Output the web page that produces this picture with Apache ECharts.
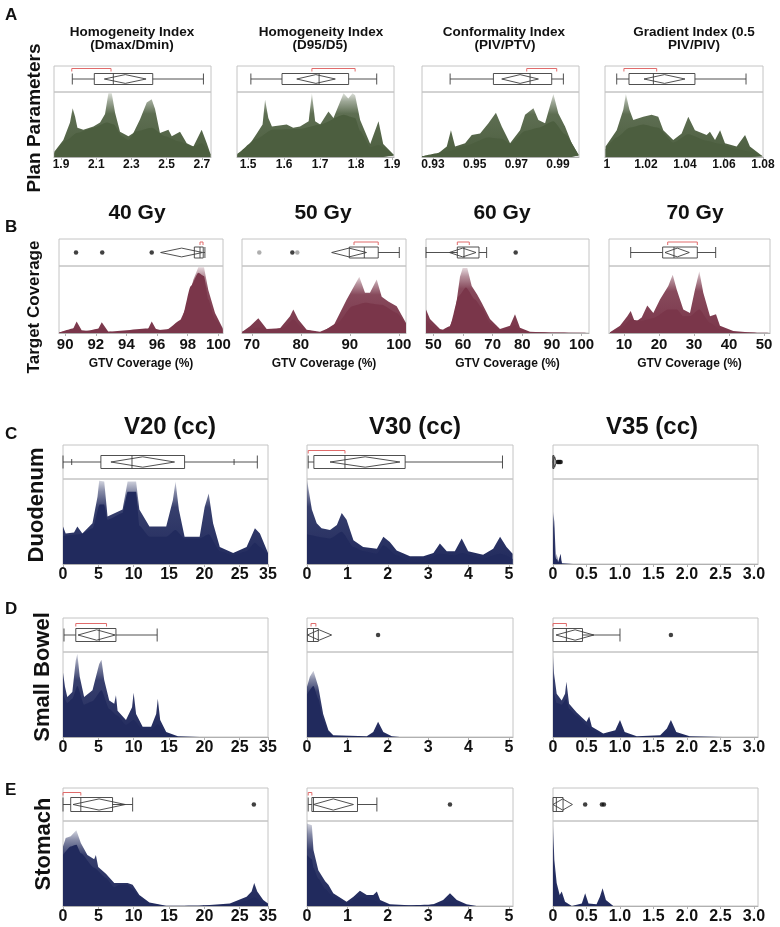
<!DOCTYPE html>
<html><head><meta charset="utf-8">
<script src="https://cdn.jsdelivr.net/npm/echarts@6/dist/echarts.min.js"></script>
<style>html,body{margin:0;padding:0;background:#fff}#c{width:780px;height:927px}</style>
</head><body><div id="c"></div>
<script>
// ---------------- DATA ----------------
// Box arrays: [whiskerLo, Q1, median, Q3, whiskerHi, meanDiamondLo, mean, meanDiamondHi, shortestHalfLo, shortestHalfHi]
// Density arrays: [value, relative height]  (outer = full shadowgram envelope, core = dense base)

// A: Plan parameters
const hiDmaxOuter = [[1.862,0.08],[1.913,0.26],[1.951,0.53],[1.966,0.75],[1.98,0.62],[1.993,0.45],[2.027,0.42],[2.084,0.47],[2.122,0.53],[2.15,0.66],[2.169,0.98],[2.188,0.98],[2.207,0.68],[2.235,0.39],[2.283,0.32],[2.311,0.37],[2.349,0.58],[2.387,0.84],[2.415,0.89],[2.434,0.74],[2.462,0.37],[2.51,0.42],[2.529,0.32],[2.576,0.39],[2.614,0.21],[2.652,0.16],[2.699,0.42],[2.728,0.21],[2.75,0.04]];
const hiDmaxCore = [[1.862,0.05],[1.932,0.26],[1.99,0.37],[2.084,0.45],[2.16,0.53],[2.2,0.5],[2.245,0.32],[2.283,0.26],[2.32,0.39],[2.415,0.45],[2.49,0.32],[2.57,0.24],[2.652,0.16],[2.7,0.21],[2.75,0.03]];
const hiDmaxBox = [1.964, 2.089, 2.197, 2.421, 2.709, 2.146, 2.265, 2.383, 1.961, 2.184];
const hiDmaxTicks = [1.9, 2.1, 2.3, 2.5, 2.7];
const hiDmaxTickText = ['1.9', '2.1', '2.3', '2.5', '2.7'];

const hiD95Outer = [[1.47,0.05],[1.50,0.16],[1.524,0.36],[1.54,0.5],[1.547,0.88],[1.556,0.6],[1.566,0.47],[1.607,0.5],[1.625,0.45],[1.644,0.47],[1.668,0.55],[1.677,0.98],[1.686,0.55],[1.7,0.5],[1.723,0.7],[1.737,0.6],[1.765,0.98],[1.778,0.9],[1.79,0.98],[1.797,0.95],[1.811,0.57],[1.839,0.2],[1.862,0.55],[1.875,0.2],[1.905,0.03]];
const hiD95Core = [[1.47,0.03],[1.524,0.28],[1.566,0.42],[1.644,0.43],[1.7,0.5],[1.765,0.65],[1.797,0.6],[1.811,0.4],[1.839,0.15],[1.862,0.18],[1.905,0.02]];
const hiD95Box = [1.5075, 1.594, 1.697, 1.779, 1.857, 1.635, 1.688, 1.742, 1.677, 1.797];
const hiD95Ticks = [1.5, 1.6, 1.7, 1.8, 1.9];
const hiD95TickText = ['1.5', '1.6', '1.7', '1.8', '1.9'];

const ciOuter = [[0.9247,0.01],[0.9318,0.04],[0.9366,0.16],[0.9386,0.41],[0.9406,0.16],[0.9454,0.21],[0.9486,0.34],[0.9526,0.36],[0.9566,0.52],[0.9602,0.68],[0.963,0.47],[0.967,0.21],[0.9718,0.41],[0.9742,0.65],[0.9782,0.75],[0.9806,0.57],[0.9838,0.52],[0.9878,0.97],[0.9902,0.67],[0.9934,0.47],[0.9966,0.21],[1.0,0.03]];
const ciCore = [[0.9247,0.01],[0.9366,0.08],[0.9454,0.17],[0.9566,0.3],[0.963,0.28],[0.967,0.2],[0.9742,0.4],[0.9806,0.45],[0.9878,0.55],[0.9934,0.35],[1.0,0.02]];
const ciBox = [0.9382, 0.959, 0.9766, 0.987, 0.9926, 0.963, 0.9718, 0.9806, 0.975, 0.9894];
const ciTicks = [0.93, 0.95, 0.97, 0.99];
const ciTickText = ['0.93', '0.95', '0.97', '0.99'];

const giOuter = [[0.9993,0.16],[1.005,0.41],[1.0084,0.73],[1.0097,0.97],[1.0115,0.73],[1.0135,0.57],[1.0186,0.62],[1.0229,0.65],[1.0263,0.62],[1.0289,0.41],[1.034,0.26],[1.0383,0.36],[1.0417,0.62],[1.0451,0.41],[1.0511,0.34],[1.0528,0.39],[1.0554,0.26],[1.058,0.41],[1.0605,0.21],[1.0665,0.16],[1.0708,0.34],[1.0733,0.16],[1.0798,0.01]];
const giCore = [[0.9993,0.12],[1.005,0.3],[1.0115,0.45],[1.0186,0.5],[1.0263,0.45],[1.034,0.22],[1.0417,0.35],[1.0511,0.25],[1.058,0.2],[1.0665,0.12],[1.0733,0.08],[1.0798,0.01]];
const giBox = [1.005, 1.0113, 1.0238, 1.0451, 1.0713, 1.019, 1.0295, 1.04, 1.0087, 1.0255];
const giTicks = [1, 1.02, 1.04, 1.06, 1.08];
const giTickText = ['1', '1.02', '1.04', '1.06', '1.08'];

// B: Target coverage (GTV coverage %)
const cov40Outer = [[89.62,0.01],[90.43,0.02],[90.75,0.17],[91.08,0.04],[92.06,0.02],[92.39,0.16],[92.82,0.02],[94.02,0.01],[95.32,0.02],[95.65,0.17],[95.97,0.04],[97.28,0.07],[97.93,0.4],[98.36,0.79],[98.69,0.98],[99.06,0.98],[99.34,0.64],[99.78,0.3],[100.28,0.07]];
const cov40Core = [[89.62,0.01],[90.75,0.08],[91.08,0.02],[92.39,0.07],[92.82,0.02],[95.65,0.07],[96.5,0.03],[97.6,0.2],[98.2,0.7],[98.69,0.9],[99.06,0.85],[99.34,0.5],[99.78,0.2],[100.28,0.05]];
const cov40Box = [98.43, 98.43, 98.8, 99.01, 99.12, 96.23, 97.6, 98.97, 98.8, 98.97];
const cov40Outliers = [90.71, 92.42, 95.65];
const cov40Ticks = [90, 92, 94, 96, 98, 100];
const cov40TickText = ['90', '92', '94', '96', '98', '100'];

const cov50Outer = [[68.06,0.02],[69.63,0.1],[71.33,0.22],[73.04,0.06],[75.76,0.07],[77.8,0.25],[78.47,0.35],[79.49,0.2],[81.2,0.05],[83.92,0.02],[86.63,0.1],[89.37,0.5],[91.94,0.84],[93.1,0.6],[94.12,0.6],[95.49,0.8],[96.51,0.54],[97.86,0.47],[99.57,0.4],[101.47,0.15]];
const cov50Core = [[68.06,0.02],[71.33,0.08],[73.04,0.03],[76.5,0.08],[78.47,0.2],[80.5,0.05],[83.92,0.01],[87.5,0.15],[90.5,0.4],[93.1,0.45],[96.51,0.42],[99.57,0.3],[101.47,0.12]];
const cov50Box = [89.9, 89.9, 92.96, 95.8, 100.1, 86.3, 89.85, 93.4, 90.86, 95.8];
const cov50Outliers = [78.27];
const cov50OutliersGray = [71.53, 79.29];
const cov50Ticks = [70, 80, 90, 100];
const cov50TickText = ['70', '80', '90', '100'];

const cov60Outer = [[47.5,0.35],[48.85,0.21],[52.22,0.06],[55.02,0.03],[57.28,0.3],[58.97,0.84],[59.88,0.97],[61.43,0.97],[62.92,0.7],[64.81,0.57],[66.29,0.45],[69.09,0.21],[72.47,0.06],[75.84,0.11],[77.53,0.28],[79.21,0.08],[82.59,0.02],[90,0.005],[102.5,0]];
const cov60Core = [[47.5,0.2],[49.5,0.1],[52.22,0.03],[55.5,0.1],[58.5,0.55],[61,0.68],[64,0.5],[66.3,0.38],[69.09,0.15],[72.47,0.04],[75.84,0.05],[77.53,0.12],[79.21,0.04],[82.59,0.01],[102.5,0]];
const cov60Box = [47.5, 58.07, 60.32, 65.38, 67.96, 55.37, 59.88, 64.37, 58.07, 62.1];
const cov60Outliers = [77.76];
const cov60Ticks = [50, 60, 70, 80, 90, 100];
const cov60TickText = ['50', '60', '70', '80', '90', '100'];

const cov70Outer = [[5.99,0.01],[8.84,0.11],[10.93,0.25],[11.9,0.33],[13.13,0.16],[15.04,0.23],[16.64,0.41],[18.36,0.3],[20.27,0.5],[22.64,0.7],[23.9,0.87],[25.04,0.65],[26.93,0.35],[28.84,0.3],[30.27,0.65],[31.5,0.92],[32.64,0.6],[34.56,0.25],[36.27,0.28],[37.41,0.11],[41.21,0.03],[47.9,0],[51.7,0]];
const cov70Core = [[5.99,0.01],[8.84,0.05],[11.9,0.2],[15.04,0.18],[18.36,0.22],[22.64,0.35],[25.04,0.35],[26.93,0.25],[28.84,0.25],[31.5,0.35],[34.56,0.15],[37.41,0.05],[41.21,0.01],[51.7,0]];
const cov70Box = [11.9, 21.03, 24.27, 30.93, 36.18, 21.7, 25.2, 28.65, 22.47, 30.93];
const cov70Ticks = [10, 20, 30, 40, 50];
const cov70TickText = ['10', '20', '30', '40', '50'];

// C-E: organ volumes (cc)
const v20Ticks = [0, 5, 10, 15, 20, 25, 29];
const v20TickText = ['0', '5', '10', '15', '20', '25', '35'];
const v30Ticks = [0, 1, 2, 3, 4, 5];
const v30TickText = ['0', '1', '2', '3', '4', '5'];
const v35Ticks = [0, 0.5, 1.0, 1.5, 2.0, 2.5, 3.0];
const v35TickText = ['0', '0.5', '1.0', '1.5', '2.0', '2.5', '3.0'];

const duoV20Outer = [[0,0.44],[0.38,0.36],[1.56,0.37],[2.03,0.44],[2.74,0.36],[4.17,0.48],[4.88,0.79],[5.12,0.98],[5.83,0.97],[6.3,0.56],[8.43,0.64],[9.14,0.97],[10.34,0.97],[10.8,0.64],[12.23,0.44],[14.6,0.44],[15.54,0.75],[15.92,0.97],[16.39,0.64],[17.2,0.32],[19.33,0.32],[20.04,0.67],[20.61,0.83],[21.23,0.48],[22.18,0.2],[24.07,0.13],[25.97,0.2],[27.15,0.42],[27.86,0.36],[29,0.13]];
const duoV20Core = [[0,0.33],[2.5,0.35],[4.2,0.42],[5.2,0.7],[5.8,0.7],[6.3,0.52],[8.43,0.6],[9.14,0.85],[10.34,0.85],[10.8,0.45],[12.23,0.32],[14.6,0.32],[15.9,0.4],[17.2,0.3],[19.33,0.3],[20.6,0.35],[22.18,0.15],[24.07,0.1],[25.97,0.15],[27.15,0.25],[27.86,0.2],[29,0.1]];
const duoV20Box = [0, 5.36, 9.76, 17.2, 27.49, 6.78, 11.28, 15.78, null, null];
const duoV20Marks = [1.23, 24.2];

const duoV30Outer = [[0.0,0.99],[0.03,0.99],[0.12,0.64],[0.24,0.48],[0.36,0.42],[0.57,0.4],[0.74,0.46],[0.86,0.6],[0.98,0.52],[1.15,0.28],[1.39,0.2],[1.73,0.18],[1.89,0.32],[2.05,0.26],[2.22,0.16],[2.55,0.09],[2.88,0.09],[3.13,0.13],[3.29,0.24],[3.46,0.15],[3.66,0.15],[3.83,0.3],[3.99,0.15],[4.36,0.11],[4.61,0.18],[4.78,0.32],[4.94,0.2],[5.09,0.12]];
const duoV30Core = [[0,0.35],[0.57,0.3],[0.86,0.38],[1.15,0.2],[1.39,0.15],[1.73,0.12],[1.89,0.22],[2.22,0.1],[2.55,0.02],[2.88,0.02],[3.29,0.12],[3.66,0.1],[3.83,0.13],[4.36,0.06],[4.78,0.12],[5.09,0.06]];
const duoV30Box = [0.03, 0.17, 0.94, 2.43, 4.84, 0.57, 1.44, 2.3, 0.03, 0.94];

const duoV35Outer = [[0,0.62],[0.02,0.5],[0.04,0.1],[0.05,0.02],[0.055,0.12],[0.075,0.02],[0.1,0.02],[0.115,0.12],[0.13,0.01],[0.3,0],[3.06,0]];
const duoV35Core = [[0,0.3],[0.03,0.05],[0.055,0.06],[0.08,0.01],[0.115,0.05],[0.14,0],[3.06,0]];
const duoV35Box = [0, 0, 0, 0.01, 0.01, 0, 0.025, 0.05, null, null];
const duoV35Outliers = [0.07, 0.085, 0.1, 0.115];

const sbV20Outer = [[0,0.76],[0.28,0.59],[0.61,0.47],[1.32,0.53],[1.81,0.9],[2.03,0.98],[2.37,0.71],[2.99,0.47],[4.17,0.55],[5.12,0.86],[5.44,0.91],[5.83,0.67],[6.54,0.43],[7.25,0.39],[7.49,0.49],[7.72,0.31],[8.91,0.2],[9.77,0.35],[9.99,0.52],[10.34,0.27],[11.27,0.12],[12.47,0.12],[13.18,0.27],[13.41,0.45],[13.75,0.2],[14.6,0.06],[16.25,0.01],[19.33,0],[29,0]];
const sbV20Core = [[0,0.5],[0.61,0.4],[1.32,0.45],[2.03,0.6],[2.99,0.38],[4.17,0.42],[5.44,0.55],[6.54,0.33],[7.72,0.25],[8.91,0.14],[9.99,0.2],[11.27,0.08],[12.47,0.08],[13.41,0.15],[14.6,0.03],[16.25,0],[29,0]];
const sbV20Box = [0.14, 1.81, 5.12, 7.49, 13.32, 2.13, 4.76, 7.39, 1.81, 6.16];

const sbV30Outer = [[0,0.59],[0.07,0.71],[0.16,0.78],[0.28,0.59],[0.4,0.27],[0.53,0.08],[0.65,0.02],[1.48,0.01],[1.64,0.06],[1.76,0.18],[1.89,0.06],[2.1,0.01],[2.3,0],[5.1,0]];
const sbV30Core = [[0,0.5],[0.16,0.6],[0.28,0.45],[0.4,0.2],[0.53,0.05],[0.65,0.01],[1.48,0],[1.64,0.03],[1.76,0.1],[1.89,0.03],[2.1,0],[5.1,0]];
const sbV30Box = [0.01, 0.01, 0.16, 0.28, 0.28, 0.01, 0.3, 0.61, 0.1, 0.22];
const sbV30Outliers = [1.76];

const sbV35Outer = [[0,0.98],[0.015,0.75],[0.055,0.51],[0.13,0.43],[0.18,0.51],[0.2,0.65],[0.24,0.39],[0.35,0.29],[0.5,0.18],[0.54,0.24],[0.58,0.12],[0.75,0.04],[0.93,0.08],[1.0,0.2],[1.07,0.06],[1.25,0.01],[1.6,0.02],[1.7,0.1],[1.76,0.2],[1.84,0.06],[2.04,0.01],[2.54,0],[3.06,0]];
const sbV35Core = [[0,0.6],[0.015,0.5],[0.055,0.4],[0.13,0.38],[0.2,0.45],[0.24,0.33],[0.35,0.25],[0.5,0.14],[0.58,0.08],[0.75,0.02],[0.93,0.03],[1.0,0.08],[1.07,0.02],[1.25,0],[1.6,0.01],[1.76,0.08],[1.84,0.02],[2.04,0],[3.06,0]];
const sbV35Box = [0, 0, 0.2, 0.44, 1.0, 0.045, 0.33, 0.61, 0, 0.2];
const sbV35Outliers = [1.76];

const stV20Outer = [[0,0.7],[0.38,0.8],[1.09,0.82],[1.89,0.89],[2.52,0.74],[3.45,0.6],[4.41,0.55],[4.65,0.6],[4.98,0.46],[6.07,0.38],[7.25,0.27],[7.96,0.27],[9.14,0.27],[9.85,0.25],[10.8,0.13],[12.23,0.04],[14.6,0.004],[19.33,0.004],[23.6,0.03],[25.97,0.11],[26.68,0.17],[27.05,0.27],[27.48,0.17],[28.33,0.07],[29,0.03]];
const stV20Core = [[0,0.6],[1.09,0.7],[1.89,0.72],[2.52,0.62],[4.41,0.45],[6.07,0.33],[7.25,0.22],[7.96,0.25],[9.14,0.25],[9.85,0.2],[10.8,0.1],[12.23,0.03],[14.6,0],[23.6,0.01],[25.97,0.06],[27.05,0.1],[28.33,0.04],[29,0.02]];
const stV20Box = [0, 1.09, 2.52, 7.01, 9.85, 1.42, 5.1, 8.81, 0, 2.52];
const stV20Outliers = [27.0];

const stV30Outer = [[0,0.97],[0.12,0.95],[0.16,0.66],[0.28,0.42],[0.45,0.29],[0.53,0.25],[0.65,0.15],[0.98,0.05],[1.15,0.11],[1.31,0.18],[1.48,0.13],[1.64,0.13],[1.73,0.17],[1.81,0.07],[2.05,0.02],[2.88,0],[3.13,0.02],[3.37,0.07],[3.54,0.15],[3.71,0.07],[3.95,0.02],[4.2,0],[5.1,0]];
const stV30Core = [[0,0.6],[0.12,0.55],[0.16,0.45],[0.28,0.32],[0.45,0.2],[0.65,0.1],[0.98,0.03],[1.31,0.1],[1.64,0.07],[1.81,0.02],[2.05,0],[3.37,0.02],[3.54,0.05],[3.71,0.02],[3.95,0],[5.1,0]];
const stV30Box = [0.03, 0.12, 0.16, 1.25, 1.73, 0.16, 0.65, 1.15, 0.03, 0.12];
const stV30Outliers = [3.54];

const stV35Outer = [[0,0.97],[0.02,0.54],[0.055,0.27],[0.1,0.13],[0.13,0.17],[0.18,0.05],[0.28,0],[0.43,0.03],[0.48,0.15],[0.53,0.03],[0.65,0.02],[0.7,0.11],[0.74,0.21],[0.79,0.07],[0.9,0],[3.06,0]];
const stV35Core = [[0,0.6],[0.02,0.4],[0.055,0.2],[0.1,0.08],[0.13,0.1],[0.18,0.02],[0.28,0],[0.43,0.01],[0.48,0.07],[0.53,0.01],[0.65,0],[0.7,0.04],[0.74,0.1],[0.79,0.03],[0.9,0],[3.06,0]];
const stV35Box = [0, 0, 0.05, 0.15, 0.15, 0, 0.145, 0.29, null, null];
const stV35Outliers = [0.48, 0.73, 0.76];

// ---------------- LAYOUT / STYLE ----------------
const FONT = 'Liberation Sans, Arial, Helvetica, sans-serif';
const ROWS = {
  A: {top: 66, div: 92, bot: 157, boxH: 11, fs: 12, margin: 2},
  B: {top: 239, div: 266, bot: 333, boxH: 11, fs: 15, margin: 4},
  C: {top: 445, div: 479, bot: 564, boxH: 13, fs: 16, margin: 3},
  D: {top: 618, div: 652, bot: 737, boxH: 13, fs: 16, margin: 3},
  E: {top: 788, div: 821, bot: 906, boxH: 14, fs: 16, margin: 3}
};
const PAL = {
  green: {rgb: [76, 94, 63]},
  maroon: {rgb: [122, 54, 74]},
  navy: {rgb: [33, 42, 93]}
};
const COL = {
  A: [[54, 211], [237, 394], [422, 579], [605, 763]],
  B: [[59, 223], [242, 406], [426, 589], [609, 770]],
  V: [[63, 268], [307, 513], [553, 758]]
};

const panels = [
  {row: 'A', pos: COL.A[0], min: 1.86, max: 2.752, outer: hiDmaxOuter, core: hiDmaxCore, box: hiDmaxBox, ticks: hiDmaxTicks, text: hiDmaxTickText, pal: 'green'},
  {row: 'A', pos: COL.A[1], min: 1.469, max: 1.905, outer: hiD95Outer, core: hiD95Core, box: hiD95Box, ticks: hiD95Ticks, text: hiD95TickText, pal: 'green'},
  {row: 'A', pos: COL.A[2], min: 0.9247, max: 1.0001, outer: ciOuter, core: ciCore, box: ciBox, ticks: ciTicks, text: ciTickText, pal: 'green'},
  {row: 'A', pos: COL.A[3], min: 0.999, max: 1.08, outer: giOuter, core: giCore, box: giBox, ticks: giTicks, text: giTickText, pal: 'green'},
  {row: 'B', pos: COL.B[0], min: 89.6, max: 100.3, outer: cov40Outer, core: cov40Core, box: cov40Box, outl: cov40Outliers, ticks: cov40Ticks, text: cov40TickText, pal: 'maroon', name: 'GTV Coverage (%)'},
  {row: 'B', pos: COL.B[1], min: 68, max: 101.47, outer: cov50Outer, core: cov50Core, box: cov50Box, outl: cov50Outliers, outlGray: cov50OutliersGray, ticks: cov50Ticks, text: cov50TickText, pal: 'maroon', name: 'GTV Coverage (%)'},
  {row: 'B', pos: COL.B[2], min: 47.5, max: 102.5, outer: cov60Outer, core: cov60Core, box: cov60Box, outl: cov60Outliers, ticks: cov60Ticks, text: cov60TickText, pal: 'maroon', name: 'GTV Coverage (%)'},
  {row: 'B', pos: COL.B[3], min: 5.7, max: 51.7, outer: cov70Outer, core: cov70Core, box: cov70Box, ticks: cov70Ticks, text: cov70TickText, pal: 'maroon', name: 'GTV Coverage (%)'},
  {row: 'C', pos: COL.V[0], min: 0, max: 29, outer: duoV20Outer, core: duoV20Core, box: duoV20Box, marks: duoV20Marks, ticks: v20Ticks, text: v20TickText, pal: 'navy'},
  {row: 'C', pos: COL.V[1], min: 0, max: 5.1, outer: duoV30Outer, core: duoV30Core, box: duoV30Box, ticks: v30Ticks, text: v30TickText, pal: 'navy'},
  {row: 'C', pos: COL.V[2], min: 0, max: 3.06, outer: duoV35Outer, core: duoV35Core, box: duoV35Box, outl: duoV35Outliers, ticks: v35Ticks, text: v35TickText, pal: 'navy'},
  {row: 'D', pos: COL.V[0], min: 0, max: 29, outer: sbV20Outer, core: sbV20Core, box: sbV20Box, ticks: v20Ticks, text: v20TickText, pal: 'navy'},
  {row: 'D', pos: COL.V[1], min: 0, max: 5.1, outer: sbV30Outer, core: sbV30Core, box: sbV30Box, outl: sbV30Outliers, ticks: v30Ticks, text: v30TickText, pal: 'navy'},
  {row: 'D', pos: COL.V[2], min: 0, max: 3.06, outer: sbV35Outer, core: sbV35Core, box: sbV35Box, outl: sbV35Outliers, ticks: v35Ticks, text: v35TickText, pal: 'navy'},
  {row: 'E', pos: COL.V[0], min: 0, max: 29, outer: stV20Outer, core: stV20Core, box: stV20Box, outl: stV20Outliers, ticks: v20Ticks, text: v20TickText, pal: 'navy'},
  {row: 'E', pos: COL.V[1], min: 0, max: 5.1, outer: stV30Outer, core: stV30Core, box: stV30Box, outl: stV30Outliers, ticks: v30Ticks, text: v30TickText, pal: 'navy'},
  {row: 'E', pos: COL.V[2], min: 0, max: 3.06, outer: stV35Outer, core: stV35Core, box: stV35Box, outl: stV35Outliers, ticks: v35Ticks, text: v35TickText, pal: 'navy'}
];

function rgba(c, a) { return 'rgba(' + c[0] + ',' + c[1] + ',' + c[2] + ',' + a + ')'; }
function labelFmt(ticks, texts) {
  return function (v) {
    let bi = 0, bd = Infinity;
    ticks.forEach(function (t, i) { const d = Math.abs(t - v); if (d < bd) { bd = d; bi = i; } });
    return texts[bi];
  };
}
function boxRender(h, marks) {
  return function (params, api) {
    const v = function (k) { return api.value(k); };
    const X = function (val) { return api.coord([val, 0.5])[0]; };
    const cy = api.coord([v(2), 0.5])[1];
    const st = {stroke: '#3c3c3c', lineWidth: 0.9, fill: 'none'};
    const kids = [];
    function line(x1, y1, x2, y2) { kids.push({type: 'line', shape: {x1: x1, y1: y1, x2: x2, y2: y2}, style: st}); }
    const wl = X(v(0)), q1 = X(v(1)), md = X(v(2)), q3 = X(v(3)), wr = X(v(4));
    const dl = X(v(5)), dm = X(v(6)), dr = X(v(7));
    if (wr - q3 > 0.5) { line(q3, cy, wr, cy); line(wr, cy - h / 2, wr, cy + h / 2); }
    if (q1 - wl > 0.5) { line(wl, cy, q1, cy); line(wl, cy - h / 2, wl, cy + h / 2); }
    (marks || []).forEach(function (m) { const mx = X(m); line(mx, cy - 3, mx, cy + 3); });
    kids.push({type: 'rect', shape: {x: q1, y: cy - h / 2, width: Math.max(q3 - q1, 1), height: h}, style: st});
    line(md, cy - h / 2, md, cy + h / 2);
    const dh = h * 0.8;
    kids.push({type: 'polygon', shape: {points: [[dl, cy], [dm, cy - dh / 2], [dr, cy], [dm, cy + dh / 2]]}, style: st});
    const s0 = v(8), s1 = v(9);
    if (s0 != null && !isNaN(s0) && s1 != null && !isNaN(s1)) {
      const by = cy - h / 2 - 5;
      const a = X(s0), b = Math.max(X(s1), a + 3);
      kids.push({type: 'polyline', shape: {points: [[a, by + 3], [a, by], [b, by], [b, by + 3]]}, style: {stroke: '#e06b6b', lineWidth: 1, fill: 'none'}});
    }
    return {type: 'group', children: kids};
  };
}

const grid = [], xAxis = [], yAxis = [], series = [];
panels.forEach(function (p, i) {
  const r = ROWS[p.row];
  const w = p.pos[1] - p.pos[0];
  const gTop = 2 * i, gBot = 2 * i + 1;
  grid.push({left: p.pos[0], top: r.top, width: w, height: r.div - r.top, show: true, borderColor: '#c4c4c4', borderWidth: 1, backgroundColor: 'transparent'});
  grid.push({left: p.pos[0], top: r.div, width: w, height: r.bot - r.div, show: true, borderColor: '#c4c4c4', borderWidth: 1, backgroundColor: 'transparent'});
  xAxis.push({gridIndex: gTop, type: 'value', min: p.min, max: p.max, show: false});
  xAxis.push({
    gridIndex: gBot, type: 'value', min: p.min, max: p.max,
    axisLine: {show: true, lineStyle: {color: '#b0b0b0', width: 1}},
    axisTick: {show: true, customValues: p.ticks, length: 3, lineStyle: {color: '#b0b0b0'}},
    axisLabel: {customValues: p.ticks, formatter: labelFmt(p.ticks, p.text), fontSize: r.fs, fontWeight: 'bold', fontFamily: FONT, color: '#111', margin: r.margin},
    splitLine: {show: false},
    name: p.name || '', nameLocation: 'middle', nameGap: 25,
    nameTextStyle: {fontSize: 12, fontWeight: 'bold', fontFamily: FONT, color: '#111'}
  });
  yAxis.push({gridIndex: gTop, type: 'value', min: 0, max: 1, show: false});
  yAxis.push({gridIndex: gBot, type: 'value', min: 0, max: 1, show: false});
  const c = PAL[p.pal];
  series.push({
    type: 'line', xAxisIndex: gBot, yAxisIndex: gBot, data: p.outer, symbol: 'none', silent: true,
    lineStyle: {width: 0}, smooth: false,
    areaStyle: {opacity: 1, color: {type: 'linear', x: 0, y: 0, x2: 0, y2: 1, colorStops: [
      {offset: 0, color: rgba(c.rgb, 0.2)}, {offset: 0.13, color: rgba(c.rgb, 0.55)},
      {offset: 0.32, color: rgba(c.rgb, 0.9)}, {offset: 1, color: rgba(c.rgb, 1)}]}}
  });
  series.push({
    type: 'line', xAxisIndex: gBot, yAxisIndex: gBot, data: p.core, symbol: 'none', silent: true,
    lineStyle: {width: 0}, smooth: 0.2, smoothMonotone: 'x',
    areaStyle: {opacity: 1, color: rgba(c.rgb, 1)}
  });
  series.push({
    type: 'custom', xAxisIndex: gTop, yAxisIndex: gTop, silent: true,
    renderItem: boxRender(r.boxH, p.marks), data: [p.box]
  });
  if (p.outl) series.push({type: 'scatter', xAxisIndex: gTop, yAxisIndex: gTop, silent: true, symbolSize: 4.5,
    itemStyle: {color: '#111'}, data: p.outl.map(function (v) { return [v, 0.5]; })});
  if (p.outlGray) series.push({type: 'scatter', xAxisIndex: gTop, yAxisIndex: gTop, silent: true, symbolSize: 4.5,
    itemStyle: {color: '#9a9a9a'}, data: p.outlGray.map(function (v) { return [v, 0.5]; })});
});

// ---------------- TEXT ----------------
const graphic = [];
function txt(s, x, y, size, opt) {
  opt = opt || {};
  graphic.push({type: 'text', x: x, y: y, rotation: opt.rot || 0, silent: true,
    style: {text: s, fontSize: size, fontWeight: 'bold', fontFamily: FONT, fill: '#111',
      align: opt.align || 'center', verticalAlign: 'middle'}});
}
// panel letters
txt('A', 5, 15, 17, {align: 'left'});
txt('B', 5, 227, 17, {align: 'left'});
txt('C', 5, 434, 17, {align: 'left'});
txt('D', 5, 609, 17, {align: 'left'});
txt('E', 5, 790, 17, {align: 'left'});
// row labels (vertical)
txt('Plan Parameters', 35, 118, 19, {rot: Math.PI / 2});
txt('Target Coverage', 34.5, 307, 17, {rot: Math.PI / 2});
txt('Duodenum', 37, 505, 22, {rot: Math.PI / 2});
txt('Small Bowel', 43, 677, 22, {rot: Math.PI / 2});
txt('Stomach', 44, 844, 22, {rot: Math.PI / 2});
// row A titles
txt('Homogeneity Index', 132, 32, 13.5); txt('(Dmax/Dmin)', 132, 45, 13.5);
txt('Homogeneity Index', 321, 32, 13.5); txt('(D95/D5)', 320, 45, 13.5);
txt('Conformality Index', 504, 32, 13.5); txt('(PIV/PTV)', 505, 45, 13.5);
txt('Gradient Index (0.5', 694, 32, 13.5); txt('PIV/PIV)', 694, 45, 13.5);
// row B titles
txt('40 Gy', 137, 213, 21); txt('50 Gy', 323, 213, 21); txt('60 Gy', 502, 213, 21); txt('70 Gy', 695, 213, 21);
// row C titles
txt('V20 (cc)', 170, 427, 24); txt('V30 (cc)', 415, 427, 24); txt('V35 (cc)', 652, 427, 24);

const chart = echarts.init(document.getElementById('c'), null, {renderer: 'canvas'});
chart.setOption({animation: false, backgroundColor: '#fff', grid: grid, xAxis: xAxis, yAxis: yAxis, series: series, graphic: graphic});
</script></body></html>
